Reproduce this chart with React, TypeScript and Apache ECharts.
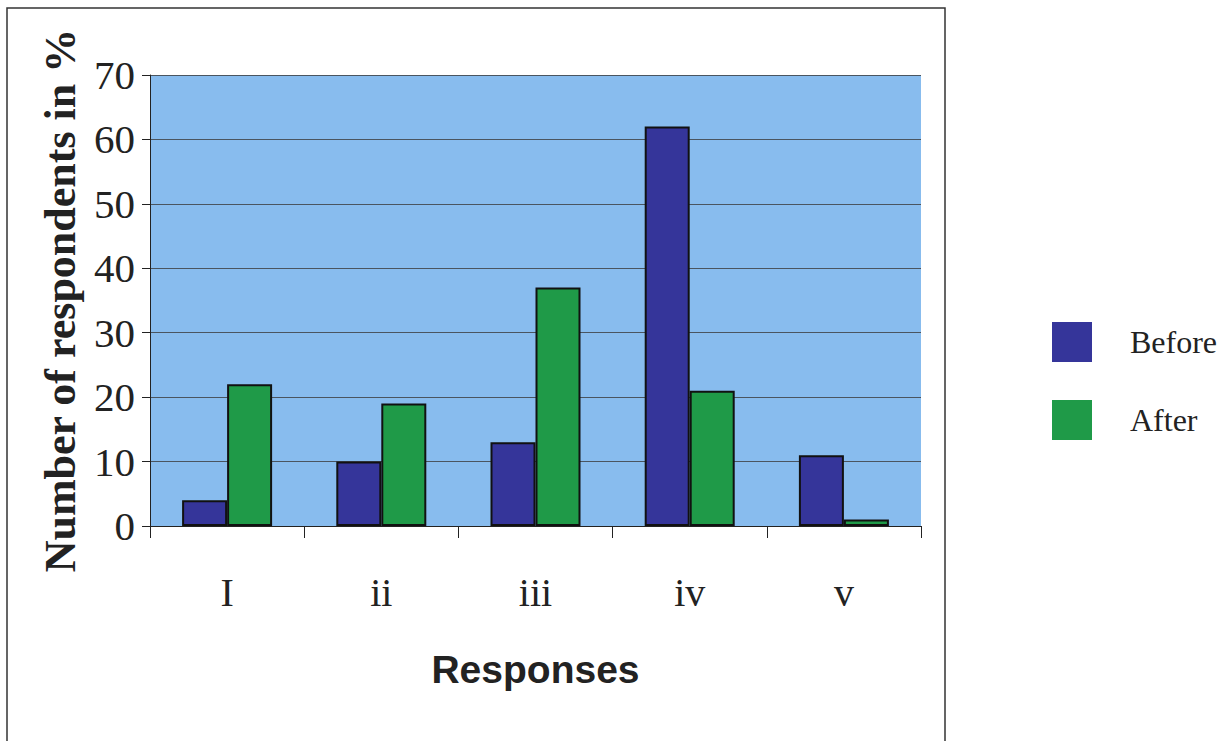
import React, { useEffect, useRef } from "react";
import * as echarts from "echarts";

const categories = ["I", "ii", "iii", "iv", "v"];
const beforeValues = [4, 10, 13, 62, 11];
const afterValues = [22, 19, 37, 21, 1];
const yTicks = { min: 0, max: 70, interval: 10 };

export default function App() {
  const ref = useRef<HTMLDivElement>(null);
  useEffect(() => {
    const chart = echarts.init(ref.current!, null, { renderer: "svg" });
    const serif = "Liberation Serif";
    chart.setOption({
      animation: false,
      backgroundColor: "#ffffff",
      grid: { left: 150, top: 75, width: 771, height: 451 },
      legend: {
        orient: "vertical",
        left: 1052,
        top: 322,
        padding: 0,
        itemWidth: 40,
        itemHeight: 40,
        itemGap: 38,
        icon: "rect",
        itemStyle: { borderWidth: 0 },
        textStyle: { fontFamily: serif, fontSize: 32, color: "#222", padding: [6, 0, 0, 33] },
        data: ["Before", "After"],
      },
      xAxis: {
        type: "category",
        data: categories,
        axisLine: { lineStyle: { color: "#222", width: 1 } },
        axisTick: { show: true, length: 12, lineStyle: { color: "#222" } },
        axisLabel: {
          fontFamily: serif,
          fontSize: 40,
          color: "#222",
          margin: 46,
        },
        name: "Responses",
        nameLocation: "middle",
        nameGap: 124,
        nameTextStyle: {
          fontFamily: "Liberation Sans",
          fontWeight: "bold",
          fontSize: 39,
          color: "#222",
        },
      },
      yAxis: {
        type: "value",
        min: yTicks.min,
        max: yTicks.max,
        interval: yTicks.interval,
        axisLine: { show: true, lineStyle: { color: "#222", width: 1 } },
        axisTick: { show: true, length: 8, lineStyle: { color: "#222" } },
        splitLine: { lineStyle: { color: "#4a5560", width: 1 } },
        splitArea: { show: false },
        axisLabel: { fontFamily: serif, fontSize: 41, color: "#222", margin: 15 },
        name: "Number of respondents in %",
        nameLocation: "middle",
        nameGap: 68,
        nameTextStyle: { fontFamily: serif, fontWeight: "bold", fontSize: 44, color: "#222" },
      },
      graphic: [
        {
          type: "rect",
          z: -10,
          shape: { x: 150, y: 75, width: 771, height: 451 },
          style: { fill: "#88bcee" },
          silent: true,
        },
        {
          type: "rect",
          z: -20,
          shape: { x: 7, y: 8, width: 938, height: 760 },
          style: { fill: "#ffffff", stroke: "#333", lineWidth: 1.5 },
          silent: true,
        },
      ],
      series: [
        {
          name: "Before",
          type: "bar",
          data: beforeValues,
          barWidth: 45,
          barGap: "0%",
          itemStyle: { color: "#35359a", borderColor: "#111", borderWidth: 2 },
        },
        {
          name: "After",
          type: "bar",
          data: afterValues,
          barWidth: 45,
          barGap: "0%",
          itemStyle: { color: "#1f9a48", borderColor: "#111", borderWidth: 2 },
        },
      ],
    });
    return () => chart.dispose();
  }, []);
  return (
    <div
      ref={ref}
      style={{ position: "fixed", left: 0, top: 0, width: 1229, height: 741 }}
    />
  );
}
